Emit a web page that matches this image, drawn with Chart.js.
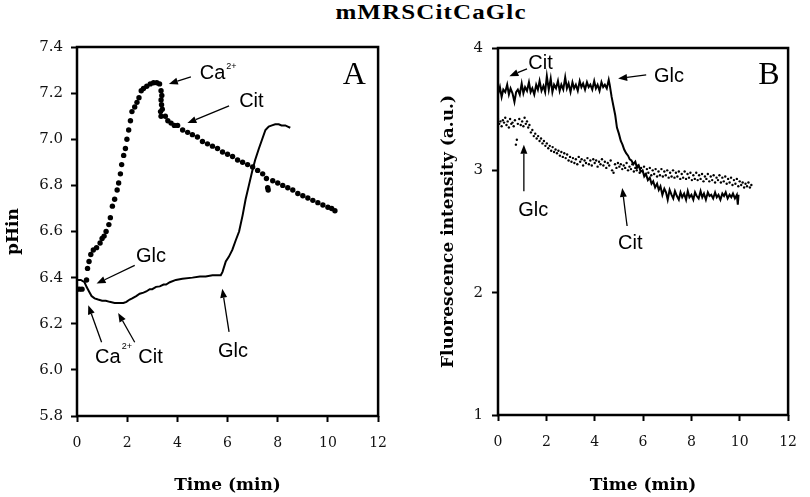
<!DOCTYPE html>
<html>
<head>
<meta charset="utf-8">
<script src="https://cdn.jsdelivr.net/npm/chart.js"></script>
<style>
  html, body { margin: 0; padding: 0; background: #fff; overflow: hidden; }
  #title {
    position: absolute; left: 331px; width: 200px; top: 2px;
    text-align: center; font: bold 20px "Liberation Serif", serif; line-height: 1;
    letter-spacing: 0.9px; transform: scaleX(1.25); color: #000;
  }
  #chartA { position: absolute; left: 0; top: 30px; }
  #chartB { position: absolute; left: 420px; top: 30px; }
</style>
</head>
<body>
<div id="title">mMRSCitCaGlc</div>
<canvas id="chartA" width="400" height="467"></canvas>
<canvas id="chartB" width="390" height="467"></canvas>
<script>
// ---- data ----
const timeTicks = [0, 2, 4, 6, 8, 10, 12];
const phTicks = [5.8, 6.0, 6.2, 6.4, 6.6, 6.8, 7.0, 7.2, 7.4];
const fluorTicks = [1, 2, 3, 4];

// panel A, dotted trace (time, pHin)
const phDotsT = [0.0, 0.1, 0.2, 0.38, 0.42, 0.48, 0.55, 0.65, 0.78, 0.92, 1.0, 1.08, 1.16, 1.27, 1.33, 1.41, 1.5, 1.6, 1.66, 1.73, 1.78, 1.86, 1.93, 1.99, 2.06, 2.13, 2.19, 2.3, 2.39, 2.47, 2.56, 2.65, 2.78, 2.92, 3.05, 3.18, 3.29, 3.35, 3.38, 3.35, 3.37, 3.40, 3.33, 3.35, 3.52, 3.62, 3.75, 3.88, 4.01, 4.21, 4.41, 4.6, 4.8, 5.0, 5.2, 5.4, 5.6, 5.8, 6.0, 6.2, 6.4, 6.6, 6.8, 7.0, 7.2, 7.4, 7.55, 7.6, 7.62, 7.8, 8.0, 8.2, 8.4, 8.6, 8.8, 9.0, 9.2, 9.4, 9.6, 9.8, 10.0, 10.15, 10.28];
const phDotsV = [6.35, 6.35, 6.35, 6.39, 6.44, 6.47, 6.50, 6.52, 6.53, 6.55, 6.57, 6.58, 6.60, 6.63, 6.66, 6.71, 6.74, 6.78, 6.81, 6.85, 6.89, 6.93, 6.96, 7.00, 7.04, 7.08, 7.12, 7.14, 7.16, 7.18, 7.21, 7.22, 7.23, 7.24, 7.245, 7.245, 7.24, 7.21, 7.19, 7.17, 7.15, 7.13, 7.12, 7.10, 7.10, 7.08, 7.07, 7.06, 7.06, 7.04, 7.03, 7.02, 7.01, 6.99, 6.98, 6.97, 6.96, 6.945, 6.935, 6.925, 6.91, 6.90, 6.89, 6.88, 6.865, 6.85, 6.83, 6.79, 6.78, 6.82, 6.81, 6.80, 6.79, 6.78, 6.765, 6.755, 6.745, 6.735, 6.725, 6.715, 6.705, 6.70, 6.69];

// panel A, solid trace (time, pHin)
const phLineT = [0.0, 0.15, 0.3, 0.38, 0.48, 0.58, 0.7, 0.84, 1.0, 1.15, 1.3, 1.5, 1.7, 1.85, 1.97, 2.1, 2.2, 2.36, 2.5, 2.65, 2.76, 2.9, 3.0, 3.15, 3.3, 3.45, 3.55, 3.7, 3.94, 4.2, 4.6, 4.9, 5.13, 5.4, 5.73, 5.8, 5.93, 6.05, 6.19, 6.32, 6.46, 6.6, 6.72, 6.85, 6.98, 7.1, 7.25, 7.38, 7.51, 7.64, 7.77, 7.9, 8.04, 8.15, 8.3, 8.4, 8.5];
const phLineV = [6.39, 6.39, 6.38, 6.36, 6.34, 6.32, 6.31, 6.305, 6.30, 6.30, 6.295, 6.29, 6.29, 6.29, 6.295, 6.305, 6.31, 6.32, 6.33, 6.335, 6.34, 6.35, 6.35, 6.36, 6.362, 6.37, 6.37, 6.38, 6.39, 6.395, 6.40, 6.405, 6.405, 6.41, 6.41, 6.425, 6.47, 6.49, 6.52, 6.56, 6.60, 6.67, 6.74, 6.80, 6.86, 6.91, 6.96, 7.00, 7.04, 7.055, 7.06, 7.065, 7.065, 7.06, 7.06, 7.055, 7.05];

// panel B, solid trace [time, intensity]
const fluorLine = [
  [0.00, 3.62], [0.08, 3.68], [0.15, 3.60], [0.22, 3.66], [0.30, 3.64], [0.38, 3.70], [0.45, 3.62], [0.52, 3.67],
  [0.60, 3.63], [0.68, 3.56], [0.75, 3.64], [0.82, 3.66], [0.90, 3.62], [0.98, 3.71], [1.05, 3.63], [1.12, 3.68],
  [1.20, 3.65], [1.28, 3.72], [1.35, 3.64], [1.42, 3.67], [1.50, 3.62], [1.58, 3.70], [1.65, 3.66], [1.72, 3.73],
  [1.80, 3.65], [1.88, 3.69], [1.95, 3.64], [2.02, 3.77], [2.10, 3.66], [2.18, 3.75], [2.25, 3.64], [2.32, 3.70],
  [2.40, 3.67], [2.48, 3.73], [2.55, 3.65], [2.62, 3.70], [2.70, 3.66], [2.78, 3.76], [2.85, 3.67], [2.92, 3.71],
  [3.00, 3.64], [3.08, 3.72], [3.15, 3.67], [3.22, 3.70], [3.30, 3.65], [3.38, 3.73], [3.45, 3.68], [3.52, 3.71],
  [3.60, 3.66], [3.68, 3.72], [3.75, 3.68], [3.82, 3.70], [3.90, 3.66], [3.98, 3.73], [4.05, 3.67], [4.12, 3.70],
  [4.20, 3.65], [4.28, 3.72], [4.35, 3.68], [4.42, 3.70], [4.50, 3.67], [4.58, 3.74], [4.62, 3.70], [4.70, 3.60],
  [4.78, 3.52], [4.85, 3.45], [4.92, 3.35], [5.00, 3.30], [5.08, 3.24], [5.15, 3.21], [5.22, 3.17], [5.30, 3.14],
  [5.38, 3.12], [5.45, 3.09], [5.52, 3.08], [5.60, 3.05], [5.68, 3.07], [5.75, 3.02], [5.82, 3.04], [5.90, 2.99],
  [5.98, 3.00], [6.05, 2.95], [6.12, 2.97], [6.20, 2.92], [6.28, 2.94], [6.35, 2.89], [6.42, 2.91], [6.50, 2.86],
  [6.58, 2.89], [6.65, 2.84], [6.72, 2.87], [6.80, 2.80], [6.88, 2.85], [6.95, 2.82], [7.02, 2.76], [7.10, 2.84],
  [7.18, 2.80], [7.25, 2.77], [7.32, 2.83], [7.40, 2.79], [7.48, 2.76], [7.55, 2.82], [7.62, 2.78], [7.70, 2.81],
  [7.78, 2.76], [7.85, 2.83], [7.92, 2.78], [8.00, 2.80], [8.08, 2.76], [8.15, 2.82], [8.22, 2.79], [8.30, 2.77],
  [8.38, 2.83], [8.45, 2.78], [8.52, 2.81], [8.60, 2.76], [8.68, 2.82], [8.75, 2.79], [8.82, 2.80], [8.90, 2.77],
  [8.98, 2.82], [9.05, 2.78], [9.12, 2.80], [9.20, 2.76], [9.28, 2.81], [9.35, 2.79], [9.42, 2.82], [9.50, 2.77],
  [9.58, 2.80], [9.65, 2.78], [9.72, 2.81], [9.80, 2.77], [9.88, 2.80], [9.92, 2.72], [9.95, 2.80]
];

// panel B, dotted trace [time, intensity]
const fluorDots = [
  [0.00, 3.42], [0.05, 3.38], [0.10, 3.40], [0.15, 3.36], [0.20, 3.41], [0.25, 3.39], [0.30, 3.43], [0.35, 3.37],
  [0.40, 3.40], [0.45, 3.35], [0.50, 3.42], [0.55, 3.38], [0.60, 3.39], [0.65, 3.36], [0.70, 3.41], [0.74, 3.21],
  [0.78, 3.25], [0.82, 3.38], [0.88, 3.42], [0.94, 3.37], [1.00, 3.40], [1.05, 3.36], [1.10, 3.43], [1.15, 3.38],
  [1.20, 3.40], [1.25, 3.35], [1.30, 3.37], [1.36, 3.31], [1.42, 3.33], [1.48, 3.28], [1.54, 3.30], [1.60, 3.26],
  [1.66, 3.28], [1.72, 3.24], [1.78, 3.26], [1.84, 3.22], [1.90, 3.24], [1.96, 3.20], [2.02, 3.22], [2.08, 3.18],
  [2.14, 3.20], [2.20, 3.16], [2.26, 3.19], [2.32, 3.15], [2.38, 3.17], [2.44, 3.14], [2.50, 3.16], [2.56, 3.12],
  [2.62, 3.15], [2.68, 3.11], [2.74, 3.14], [2.80, 3.10], [2.86, 3.13], [2.92, 3.08], [2.98, 3.11], [3.04, 3.07],
  [3.10, 3.10], [3.16, 3.06], [3.22, 3.09], [3.28, 3.05], [3.34, 3.11], [3.40, 3.07], [3.46, 3.09], [3.52, 3.04],
  [3.58, 3.08], [3.64, 3.06], [3.70, 3.10], [3.76, 3.05], [3.82, 3.08], [3.88, 3.04], [3.94, 3.09], [4.00, 3.06],
  [4.06, 3.08], [4.12, 3.03], [4.18, 3.07], [4.24, 3.05], [4.30, 3.09], [4.36, 3.04], [4.42, 3.07], [4.48, 3.02],
  [4.54, 3.06], [4.60, 3.04], [4.66, 3.08], [4.72, 3.00], [4.78, 2.98], [4.84, 3.05], [4.90, 3.02], [4.96, 3.06],
  [5.02, 3.03], [5.08, 3.05], [5.14, 3.01], [5.20, 3.04], [5.26, 3.02], [5.32, 3.06], [5.38, 3.00], [5.44, 3.03],
  [5.50, 3.01], [5.56, 3.05], [5.62, 2.99], [5.68, 3.02], [5.74, 3.00], [5.80, 3.04], [5.86, 2.98], [5.92, 3.02],
  [5.98, 2.99], [6.04, 3.03], [6.10, 2.97], [6.16, 3.01], [6.22, 2.98], [6.28, 3.02], [6.34, 2.96], [6.40, 3.00],
  [6.46, 2.97], [6.52, 3.01], [6.58, 2.95], [6.64, 2.99], [6.70, 2.96], [6.76, 3.01], [6.82, 2.95], [6.88, 2.99],
  [6.94, 2.96], [7.00, 3.00], [7.06, 2.94], [7.12, 2.98], [7.18, 2.95], [7.24, 3.00], [7.30, 2.94], [7.36, 2.98],
  [7.42, 2.95], [7.48, 2.99], [7.54, 2.93], [7.60, 2.97], [7.66, 2.94], [7.72, 2.99], [7.78, 2.93], [7.84, 2.97],
  [7.90, 2.94], [7.96, 2.98], [8.02, 2.92], [8.08, 2.96], [8.14, 2.93], [8.20, 2.98], [8.26, 2.92], [8.32, 2.96],
  [8.38, 2.93], [8.44, 2.97], [8.50, 2.91], [8.56, 2.95], [8.62, 2.93], [8.68, 2.97], [8.74, 2.91], [8.80, 2.95],
  [8.86, 2.92], [8.92, 2.96], [8.98, 2.90], [9.04, 2.94], [9.10, 2.92], [9.16, 2.96], [9.22, 2.90], [9.28, 2.94],
  [9.34, 2.91], [9.40, 2.95], [9.46, 2.89], [9.52, 2.93], [9.58, 2.90], [9.64, 2.94], [9.70, 2.88], [9.76, 2.92],
  [9.82, 2.89], [9.88, 2.93], [9.94, 2.87], [10.00, 2.91], [10.06, 2.88], [10.12, 2.90], [10.18, 2.86], [10.24, 2.89],
  [10.30, 2.87], [10.36, 2.90], [10.42, 2.86], [10.48, 2.88]
];

// annotations, in data units: label baseline centre, arrow tail -> head
const notesA = [
  { text: 'Ca', sup: '2+', t: 5.40, v: 7.262, supDy: 10 },
  { text: 'Cit', t: 6.95, v: 7.14 },
  { text: 'Glc', t: 2.95, v: 6.466 },
  { text: 'Ca', sup: '2+', t: 1.23, v: 6.029, supDy: 14 },
  { text: 'Cit', t: 2.93, v: 6.029 },
  { text: 'Glc', t: 6.22, v: 6.055 },
  { text: 'A', t: 11.05, v: 7.24, big: true }
];
const arrowsA = [
  [4.54, 7.27, 3.66, 7.24],
  [6.06, 7.145, 4.40, 7.07],
  [2.30, 6.453, 0.78, 6.374],
  [0.98, 6.12, 0.45, 6.28],
  [2.30, 6.12, 1.64, 6.247],
  [6.06, 6.165, 5.79, 6.352]
];
const notesB = [
  { text: 'Cit', t: 1.76, v: 3.829 },
  { text: 'Glc', t: 7.07, v: 3.724 },
  { text: 'Glc', t: 1.46, v: 2.626 },
  { text: 'Cit', t: 5.47, v: 2.358 },
  { text: 'B', t: 11.21, v: 3.707, big: true }
];
const arrowsB = [
  [1.2, 3.83, 0.47, 3.77],
  [6.13, 3.78, 4.97, 3.75],
  [1.07, 2.83, 1.07, 3.21],
  [5.34, 2.545, 5.14, 2.856]
];

// ---- drawing ----
const serif = '"DejaVu Serif", serif';
const sans = '"Liberation Sans", Arial, sans-serif';

function drawArrow(ctx, x1, y1, x2, y2) {
  const a = Math.atan2(y2 - y1, x2 - x1);
  const len = 9, half = 3.5;
  const bx = x2 - len * Math.cos(a), by = y2 - len * Math.sin(a);
  ctx.beginPath();
  ctx.moveTo(x1, y1);
  ctx.lineTo(bx, by);
  ctx.stroke();
  ctx.beginPath();
  ctx.moveTo(x2, y2);
  ctx.lineTo(bx + half * Math.sin(a), by - half * Math.cos(a));
  ctx.lineTo(bx - half * Math.sin(a), by + half * Math.cos(a));
  ctx.closePath();
  ctx.fill();
}

function framePlugin(notes, arrows) {
  return {
    id: 'frameNotes',
    afterDraw(chart) {
      const { ctx, chartArea: ca, scales: { x, y } } = chart;
      ctx.save();
      ctx.strokeStyle = '#000';
      ctx.fillStyle = '#000';
      ctx.lineWidth = 2.5;
      ctx.strokeRect(ca.left, ca.top, ca.right - ca.left, ca.bottom - ca.top);

      ctx.lineWidth = 1.3;
      arrows.forEach(([t1, v1, t2, v2]) => {
        drawArrow(ctx, x.getPixelForValue(t1), y.getPixelForValue(v1),
                  x.getPixelForValue(t2), y.getPixelForValue(v2));
      });

      ctx.textBaseline = 'alphabetic';
      notes.forEach(n => {
        const px = x.getPixelForValue(n.t), py = y.getPixelForValue(n.v);
        ctx.font = n.big ? '32px "Liberation Serif", serif' : '20px ' + sans;
        ctx.textAlign = 'center';
        ctx.fillText(n.text, px, py);
        if (n.sup) {
          const w = ctx.measureText(n.text).width;
          ctx.font = '9px ' + sans;
          ctx.textAlign = 'left';
          ctx.fillText(n.sup, px + w / 2 + 1, py - n.supDy);
        }
      });
      ctx.restore();
    }
  };
}

function makeChart(id, cfg) {
  return new Chart(document.getElementById(id), {
    type: 'scatter',
    data: { datasets: cfg.datasets },
    options: {
      responsive: false,
      animation: false,
      devicePixelRatio: 1,
      layout: { padding: { top: 16, right: cfg.padRight, bottom: 0, left: 0 } },
      plugins: { legend: { display: false }, tooltip: { enabled: false } },
      scales: {
        x: {
          type: 'linear', min: 0, max: 12,
          afterBuildTicks: s => { s.ticks = timeTicks.map(v => ({ value: v })); },
          afterFit: s => { s.height = cfg.xHeight; },
          border: { display: false },
          grid: { drawOnChartArea: false, tickLength: 6, tickWidth: 2, tickColor: '#000' },
          ticks: { color: '#111', padding: 13, font: { family: serif, size: 14 }, maxRotation: 0 },
          title: { display: true, text: 'Time (min)', color: '#000',
                   font: { family: serif, size: 17, weight: 'bold' }, padding: { top: 0, bottom: 1 } }
        },
        y: {
          type: 'linear', min: cfg.yMin, max: cfg.yMax,
          afterBuildTicks: s => { s.ticks = cfg.yTicks.map(v => ({ value: v })); },
          afterFit: s => { s.width = cfg.yWidth; },
          border: { display: false },
          grid: { drawOnChartArea: false, tickLength: 6, tickWidth: 2, tickColor: '#000' },
          ticks: { color: '#111', padding: cfg.yPad, font: { family: serif, size: 15 }, callback: cfg.fmt },
          title: { display: true, text: cfg.yTitle, color: '#000',
                   font: { family: serif, size: 17, weight: 'bold' }, padding: { top: cfg.yTitlePad, bottom: 0 } }
        }
      }
    },
    plugins: [framePlugin(cfg.notes, cfg.arrows)]
  });
}

makeChart('chartA', {
  datasets: [
    {
      data: phDotsT.map((t, i) => ({ x: t, y: phDotsV[i] })),
      showLine: false, pointRadius: 2.7, pointBackgroundColor: '#000', pointBorderWidth: 0
    },
    {
      data: phLineT.map((t, i) => ({ x: t, y: phLineV[i] })),
      showLine: true, borderColor: '#000', borderWidth: 2, pointRadius: 0, tension: 0
    }
  ],
  padRight: 20, xHeight: 81, yWidth: 77, yPad: 8, yTitlePad: 3,
  yMin: 5.8, yMax: 7.4, yTicks: phTicks, fmt: v => v.toFixed(1),
  yTitle: 'pHin', notes: notesA, arrows: arrowsA
});

makeChart('chartB', {
  datasets: [
    {
      data: fluorDots.map(([t, v]) => ({ x: t, y: v })),
      showLine: false, pointRadius: 1.2, pointBackgroundColor: '#000', pointBorderWidth: 0
    },
    {
      data: fluorLine.map(([t, v]) => ({ x: t, y: v })),
      showLine: true, borderColor: '#000', borderWidth: 2, pointRadius: 0, tension: 0
    }
  ],
  padRight: 8, xHeight: 82, yWidth: 78, yPad: 9, yTitlePad: 18,
  yMin: 1, yMax: 4, yTicks: fluorTicks, fmt: v => String(v),
  yTitle: 'Fluorescence intensity (a.u.)', notes: notesB, arrows: arrowsB
});
</script>
</body>
</html>
